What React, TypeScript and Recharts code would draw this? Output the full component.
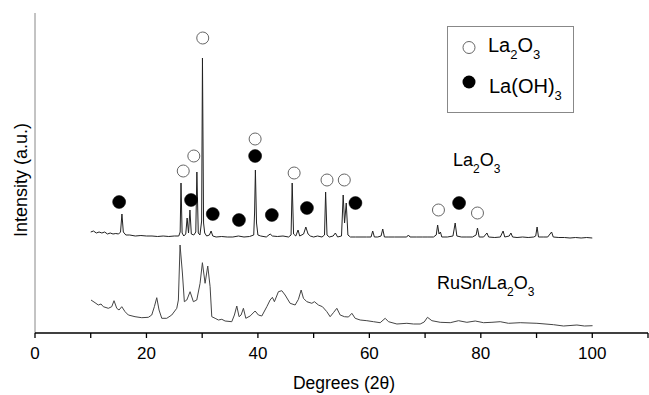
import React from "react";
import {
  ComposedChart,
  Line,
  Scatter,
  XAxis,
  YAxis,
  ReferenceLine,
  Customized,
} from "recharts";

// La2O3 pattern: [2θ (deg), intensity (a.u.)]
const la2o3Pattern: [number, number][] = [
  [10, 101], [10.5, 102], [11, 100], [11.5, 101], [12, 100], [12.5, 101], [13, 99], [13.5, 100],
  [14, 99], [14.5, 99.5], [15, 99], [15.35, 101], [15.6, 119], [15.85, 101], [16.3, 98], [17, 98],
  [18, 97], [19, 97.5], [20, 97], [21, 97], [22, 96.5], [23, 97], [24, 96.5], [25, 97], [25.8, 97],
  [26.05, 101], [26.2, 150], [26.4, 100], [26.7, 97], [27.05, 99], [27.3, 115], [27.55, 100],
  [27.8, 123], [28.05, 99], [28.5, 98], [28.85, 101], [29.05, 161], [29.3, 100], [29.6, 98],
  [29.9, 112], [30.05, 275], [30.25, 110], [30.45, 100], [30.8, 97], [31.3, 98], [31.6, 102],
  [31.9, 97], [32.5, 96], [33.5, 96.5], [34.5, 96], [35.5, 96], [36.5, 97], [37.5, 96], [38.5, 96.5],
  [39.25, 98], [39.4, 120], [39.55, 163], [39.75, 110], [40, 98], [40.5, 97], [41.5, 96], [42.2, 99],
  [42.6, 97], [43.5, 96.5], [44.5, 97], [45.5, 96], [45.95, 98], [46.15, 150], [46.4, 99], [46.8, 97],
  [47.2, 103], [47.5, 97], [48.2, 99], [48.6, 106], [49, 99], [49.4, 97], [50, 96], [50.7, 97],
  [51.5, 96], [51.95, 98], [52.15, 141], [52.4, 98], [52.8, 96], [53.5, 97], [53.9, 100], [54.3, 96],
  [55, 97], [55.3, 138], [55.55, 110], [55.85, 130], [56.15, 98], [56.6, 96], [57.5, 96], [58.5, 96],
  [59.5, 96], [60.3, 96], [60.6, 102], [60.9, 96], [61.5, 96], [62.1, 97], [62.4, 104], [62.7, 96],
  [63.5, 96], [64.5, 96], [65.5, 96], [66.7, 96], [67, 98], [67.3, 96], [68.5, 96], [69.5, 96],
  [70.5, 96], [71.5, 96], [72, 98], [72.25, 108], [72.5, 99], [72.75, 101], [73, 96], [74, 96],
  [75, 97], [75.4, 110], [75.7, 97], [76.5, 96], [77.5, 96], [78.5, 96], [79.15, 98], [79.4, 105],
  [79.7, 96], [80.5, 96], [81.1, 100], [81.4, 96], [82.5, 95.5], [83.5, 96], [84, 102], [84.3, 96],
  [85.1, 97], [85.4, 100], [85.7, 96], [86.5, 95.5], [87.5, 96], [88.5, 95.5], [89.5, 96], [89.85, 97],
  [90.1, 106], [90.35, 96], [91.2, 96], [92, 96], [92.7, 101], [93, 96], [94, 95.5], [95, 95.5],
  [96, 95], [97, 95.5], [98, 95], [99, 95.5], [100, 95],
];

// RuSn/La2O3 pattern: [2θ (deg), intensity (a.u.)]
const rusnPattern: [number, number][] = [
  [10.05, 33], [10.77, 30.3], [11.36, 28], [11.85, 29], [12.26, 26.3], [13.16, 24.7], [13.77, 26.3],
  [14.18, 32.3], [14.67, 24.7], [15.08, 23], [15.57, 26.3], [16.16, 21.3], [16.75, 18], [17.95, 16.3],
  [19.16, 15.3], [20.34, 15.7], [20.95, 18], [21.42, 26.3], [21.85, 35.3], [22.26, 23], [22.75, 14.7],
  [23.64, 14.7], [24.54, 18], [25.44, 24.7], [25.73, 33], [26.03, 88], [26.45, 60], [26.8, 31.3],
  [27.24, 33], [27.83, 41.3], [28.42, 31.3], [29.03, 33], [29.62, 49.7], [30.04, 70.3], [30.52, 49.7],
  [31, 67], [31.42, 46.3], [31.72, 16.3], [32.32, 14.7], [32.91, 13], [33.52, 13.7], [34.11, 12],
  [35.31, 11.3], [35.78, 18], [36.21, 27], [36.62, 16.3], [36.98, 18], [37.4, 24.7], [37.83, 14.7],
  [38.6, 17], [39.5, 22], [40.09, 18], [40.7, 17], [41.6, 26.3], [42.19, 33], [42.6, 35.7],
  [42.96, 31.3], [43.68, 41.3], [44.29, 42.3], [44.88, 38], [45.78, 29.7], [46.68, 28], [47.27, 33.7],
  [47.76, 43], [48.17, 34.7], [48.78, 31.3], [49.68, 29.7], [50.14, 31.3], [50.86, 28], [51.58, 26.3],
  [52.37, 21.3], [52.96, 16.3], [53.55, 20.3], [54.16, 24.7], [54.76, 18], [55.53, 16.3], [56.25, 16],
  [56.86, 19.7], [57.45, 14.7], [58.35, 13], [59.55, 12.3], [60.74, 11.3], [61.94, 10.3], [62.84, 14.7],
  [63.43, 11.3], [64.94, 9], [66.73, 9.7], [67.92, 9], [69.12, 9], [69.84, 11], [70.43, 15.7],
  [71.22, 12.3], [72.71, 10.7], [74.51, 10.3], [76, 12.3], [77.5, 10.7], [79, 12], [80.49, 10.3],
  [82, 10.7], [83.48, 11.3], [84.97, 9.7], [87.07, 10.3], [90.07, 9.7], [93.05, 8.3], [94.85, 7],
  [97.25, 8], [98.6, 7], [100.05, 7.3],
];

// Phase markers: [2θ, marker height]
const la2o3Markers: [number, number][] = [
  [26.6, 162], [28.5, 177], [30.1, 295], [39.5, 194], [46.5, 160], [52.4, 153], [55.5, 153],
  [72.4, 123], [79.4, 120],
];
const laOH3Markers: [number, number][] = [
  [15.1, 131], [28.0, 133], [31.9, 119], [36.6, 113], [39.5, 177], [42.5, 118], [48.8, 125],
  [57.5, 130], [76.1, 130],
];

const xTicks = [0, 10, 20, 30, 40, 50, 60, 70, 80, 90, 100, 110];

const toRows = (arr: [number, number][]) => arr.map(([x, y]) => ({ x, y }));

const FONT = "'Liberation Sans', Arial, sans-serif";

const OpenCircle = (props: any) => {
  const { cx, cy } = props;
  if (cx == null || cy == null) return null;
  return <circle cx={cx} cy={cy} r={6} fill="#fff" stroke="#666" strokeWidth={1} />;
};
const FilledCircle = (props: any) => {
  const { cx, cy } = props;
  if (cx == null || cy == null) return null;
  return <circle cx={cx} cy={cy} r={6.5} fill="#000" stroke="#000" strokeWidth={0.5} />;
};

const Formula = ({ x, y, main, sub, size, subSize }: any) => {
  // main: array of strings, sub: array of subscripts following each main
  const parts: React.ReactNode[] = [];
  main.forEach((m: string, i: number) => {
    const shiftBack = i > 0 && sub[i - 1] ? -7 : 0;
    parts.push(
      <tspan key={"m" + i} dy={shiftBack} fontSize={size}>
        {m}
      </tspan>
    );
    if (sub[i]) {
      parts.push(
        <tspan key={"s" + i} dy={7} fontSize={subSize}>
          {sub[i]}
        </tspan>
      );
    }
  });
  return (
    <text x={x} y={y} fontFamily={FONT} fill="#000">
      {parts}
    </text>
  );
};

const Overlay = () => (
  <g>
    {/* legend box */}
    <rect x={447.5} y={26.5} width={126} height={86} fill="#fff" stroke="#888" strokeWidth={1} />
    <circle cx={469} cy={47.5} r={6} fill="#fff" stroke="#666" strokeWidth={1} />
    <Formula x={488} y={52} main={["La", "O"]} sub={["2", "3"]} size={20} subSize={13} />
    <circle cx={469} cy={82} r={6.5} fill="#000" />
    <Formula x={489} y={92.5} main={["La(OH)"]} sub={["3"]} size={20} subSize={13} />
    {/* series labels */}
    <Formula x={453} y={166} main={["La", "O"]} sub={["2", "3"]} size={18} subSize={12} />
    <Formula x={437} y={289} main={["RuSn/La", "O"]} sub={["2", "3"]} size={18} subSize={12} />
    {/* axis titles */}
    <text x={344} y={389} textAnchor="middle" fontFamily={FONT} fontSize={17.5} fill="#000">
      Degrees (2θ)
    </text>
    <text
      x={26.5}
      y={180}
      textAnchor="middle"
      fontFamily={FONT}
      fontSize={18}
      fill="#000"
      transform="rotate(-90, 26.5, 180)"
    >
      Intensity (a.u.)
    </text>
  </g>
);

export default function App() {
  return (
    <div style={{ position: "absolute", left: 0, top: 0, width: 649, height: 395, background: "#fff" }}>
      <ComposedChart
        width={649}
        height={395}
        margin={{ top: 13, right: 1, left: 35, bottom: 0 }}
      >
        <XAxis
          type="number"
          dataKey="x"
          domain={[0, 110]}
          ticks={xTicks}
          allowDataOverflow
          height={62}
          tickSize={5}
          tickMargin={9}
          interval={0}
          stroke="#000"
          axisLine={{ stroke: "#000", strokeWidth: 1.3 }}
          tickLine={{ stroke: "#000", strokeWidth: 1.3 }}
          tick={{ fill: "#000", fontSize: 17, fontFamily: FONT }}
          tickFormatter={(v: number) => (v % 20 === 0 && v <= 100 ? String(v) : "")}
        />
        <YAxis type="number" dataKey="y" domain={[0, 320]} hide allowDataOverflow />
        <ReferenceLine x={0} stroke="#888" strokeWidth={1} ifOverflow="extendDomain" />
        <Line
          data={toRows(rusnPattern)}
          dataKey="y"
          type="linear"
          stroke="#444"
          strokeWidth={1}
          dot={false}
          activeDot={false}
          isAnimationActive={false}
        />
        <Line
          data={toRows(la2o3Pattern)}
          dataKey="y"
          type="linear"
          stroke="#222"
          strokeWidth={1}
          dot={false}
          activeDot={false}
          isAnimationActive={false}
        />
        <Scatter
          data={toRows(la2o3Markers)}
          dataKey="y"
          shape={OpenCircle}
          isAnimationActive={false}
        />
        <Scatter
          data={toRows(laOH3Markers)}
          dataKey="y"
          shape={FilledCircle}
          isAnimationActive={false}
        />
        <Customized component={Overlay} />
      </ComposedChart>
    </div>
  );
}
